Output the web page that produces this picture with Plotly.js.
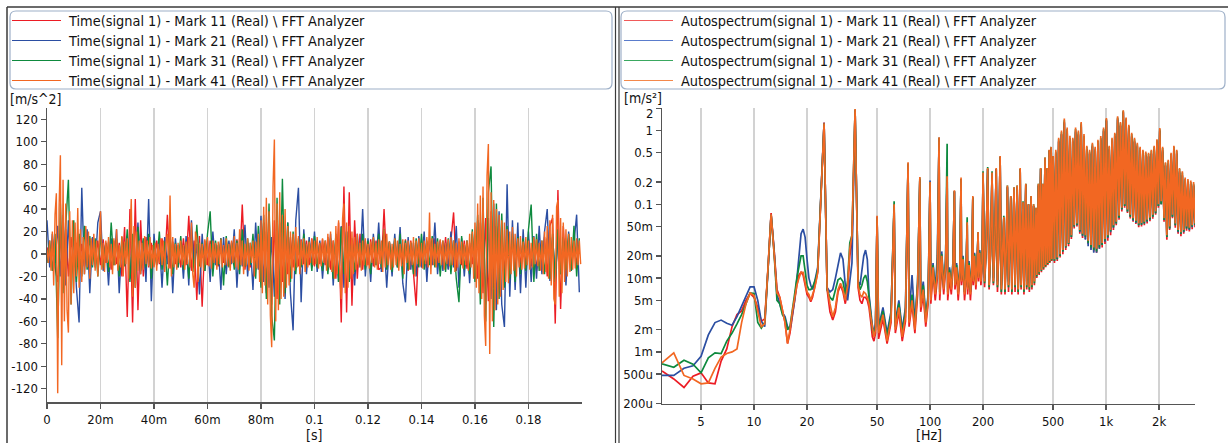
<!DOCTYPE html>
<html><head><meta charset="utf-8">
<script src="https://cdn.plot.ly/plotly-3.0.1.min.js"></script>
<style>html,body{margin:0;padding:0;background:#fff;}#chart{width:1228px;height:443px;}</style>
</head><body><div id="chart"></div>
<script>
const timeNames = ['Time(signal 1) - Mark 11 (Real) \\ FFT Analyzer','Time(signal 1) - Mark 21 (Real) \\ FFT Analyzer','Time(signal 1) - Mark 31 (Real) \\ FFT Analyzer','Time(signal 1) - Mark 41 (Real) \\ FFT Analyzer'];
const specNames = ['Autospectrum(signal 1) - Mark 11 (Real) \\ FFT Analyzer','Autospectrum(signal 1) - Mark 21 (Real) \\ FFT Analyzer','Autospectrum(signal 1) - Mark 31 (Real) \\ FFT Analyzer','Autospectrum(signal 1) - Mark 41 (Real) \\ FFT Analyzer'];
const seriesColors = ['#ec1c24','#2b4ea2','#0e8a3e','#f26722'];
const legendColorsSpec = ['#f05a5a','#5a7ccc','#3aa860','#f4884a'];
const timeStepCoarse = 0.001;   // red, blue, green samples
const timeStepFine = 0.0005;    // orange samples

const accRed = [6,-8,10,-12,-25,18,-30,22,-20,15,
-12,10,-14,9,-11,8,-13,10,-9,12,
-10,13,-8,11,-14,12,-9,10,-20,24,
-56,40,-61,49,-50,30,-20,15,-12,10,
-11,12,-9,14,-10,35,-13,11,-9,8,
-12,14,-10,34,-15,12,-41,16,-47,12,
-10,12,-13,9,-11,14,-8,12,-10,11,
-9,13,-11,44,-14,10,-12,9,-13,11,
-20,28,-35,38,-45,30,-40,28,-25,20,
-18,15,-12,10,-11,13,-9,12,-10,14,
-11,12,-9,13,-10,15,-14,12,-22,28,
-61,60,-52,55,-46,30,-22,18,-14,12,
-10,13,-11,12,-14,-12,40,-13,11,-10,
12,-11,10,-9,13,-15,12,-14,-46,14,
-12,10,-13,11,-9,14,-10,12,-11,15,
-13,12,37,-15,11,-10,12,-13,10,-9,
15,-22,28,-35,32,-42,38,-30,25,-22,
18,-15,13,-12,10,-14,11,-9,12,-10,
13,-11,12,-15,10,-13,15,-20,25,32,
-62,57,-49,25,-18,14,-12,10,-9,8];
const accBlue = [30,-12,18,-8,25,-20,35,-28,30,-22,
20,-30,-61,59,-18,22,-35,15,-12,28,
38,-15,10,-28,14,-10,22,-35,12,-9,
16,-22,8,-14,28,-18,12,-25,49,-42,
18,-10,12,-30,15,-9,20,-35,14,-12,
10,-22,16,-28,30,-12,9,-36,18,-15,
12,-25,20,-10,8,-32,15,-18,12,-9,
22,-30,14,-11,26,-20,10,-32,28,-14,
34,-25,20,-30,15,-38,25,-30,18,-40,
28,-35,-68,30,59,-43,22,-18,15,-12,
20,-16,12,-22,10,-14,18,-28,16,-25,
25,-30,20,-15,12,-28,18,-12,40,-20,
14,-25,18,-10,28,-16,12,-30,10,-20,
18,-12,24,-26,-43,15,-14,10,-20,16,
-12,20,-25,14,-10,28,-18,12,-15,10,
-14,20,-12,25,-30,14,-20,12,-26,18,
-22,30,-35,38,-45,32,-40,45,-50,38,
-45,-65,62,-38,30,-32,28,-35,22,-30,
20,-25,16,-22,25,-18,20,40,-24,15,
-22,14,-18,12,-28,20,-15,12,35,-34];
const accGreen = [-8,12,-15,18,-75,45,-35,25,66,-45,
30,-25,18,-20,25,-14,16,-12,14,-20,
18,-12,10,-16,28,-10,13,-20,15,-11,
22,-25,18,-30,24,-15,14,-12,18,-22,
12,-10,20,-14,11,-28,15,-18,10,-12,
16,-14,11,-22,14,-16,26,-11,10,-15,
18,38,-20,12,-10,14,-28,16,-12,10,
-14,12,-18,22,-11,14,-10,18,-22,25,
-30,35,-40,45,-55,-77,50,-45,67,-35,
28,-25,20,-18,14,-12,18,-10,12,-15,
16,-12,10,-15,12,-18,14,-22,18,-25,
24,-18,20,-25,14,-16,12,-10,18,-14,
12,-18,14,-10,18,-12,22,-14,11,-16,
14,-12,18,-22,12,-14,10,-18,14,-12,
18,-14,12,-10,16,-12,14,-20,12,-16,
14,-18,12,-22,-43,16,-14,12,-18,22,
-25,35,-45,50,-60,55,78,-65,45,-40,
36,-30,25,-22,18,-25,15,-18,14,-15,
22,44,-25,18,-15,12,-18,14,-22,18,
-25,22,-18,15,-14,18,-15,25,-20,14];
const accOrange = [4,-8,12,-15,20,-28,35,54,-124,40,88,-99,66,-60,45,-50,-70,38,-45,30,
-35,28,-20,41,-30,22,-25,15,-18,25,-12,20,-22,14,-10,18,-15,12,-20,16,
38,-14,10,-16,12,-8,15,-12,9,-18,14,-10,22,-15,8,-12,16,-20,11,-9,
14,-22,18,49,-38,25,-30,20,-15,12,-18,10,-14,16,-9,12,-11,15,-13,8,
-12,10,-15,9,-8,14,-10,12,-16,11,18,-13,52,-20,15,-12,9,-14,10,-8,
12,-10,8,-14,11,-9,15,-12,28,-18,-30,20,14,-25,10,-12,9,-15,13,-10,
15,-11,9,-13,12,-8,10,-14,11,-9,13,-12,8,-10,14,-11,9,-15,12,-8,
16,-12,10,-14,22,-10,12,-18,9,-11,14,-15,10,-8,12,-20,11,-13,18,-25,
30,-35,42,-28,50,-45,38,-55,-83,60,102,-60,45,-50,55,-40,35,-38,40,-30,
25,-28,20,-22,18,-15,24,-12,16,-18,12,-10,14,-16,9,-12,11,-8,13,-10,
12,-9,15,-13,10,-11,14,-8,12,-15,18,-12,20,-16,12,-22,25,-18,30,-20,
-40,32,45,-35,28,-30,25,-22,20,-18,15,-14,18,-12,10,-15,12,-10,14,-11,
9,-13,11,-8,15,-12,10,-14,13,-9,12,-16,22,-12,18,-10,11,-14,9,-12,
14,-10,12,-15,9,-11,13,-18,10,-8,12,-14,11,-10,15,-20,12,-9,14,-11,
10,-13,12,-9,15,-12,37,-18,14,-10,9,-12,11,-8,13,-10,12,-14,10,-9,
13,-11,15,-10,12,-16,10,-12,14,-9,11,-13,9,-10,12,-15,18,-12,20,-22,
28,-30,45,-35,52,-40,60,-55,-82,70,98,-89,55,-60,48,-50,40,-45,35,-38,
30,-32,28,-25,22,-26,20,-18,24,-15,18,-20,14,-12,16,-14,11,-13,15,-10,
12,-14,10,-12,15,-9,13,-11,10,-15,12,-18,20,-16,25,-22,30,-28,35,-40,
-45,42,48,-38,32,-35,28,-25,22,-20,18,-16,15,-14,12,-13,14,-10,12,-9];

const freqHz = [3,3.5,4,4.5,5,5.5,6,6.5,7,7.5,8,8.5,9,9.5,10,10.5,11,11.5,12,12.5,13,13.5,14,14.5,15,15.5,16,16.5,17,17.5,18,18.5,19,19.5,20,20.5,21,21.5,22,22.5,23,
25,26,27,28,29,30,31,32,33,34,35,36,37.5,39,40,41,42,43,44,45,46,47,48,49,50,
51,54,57,60,62.5,63.5,66.5,69.5,72.5,75,76,79,82,85,87.5,88.5,91.5,94.5,97.5,100,101,104,107,110,112.5,113.5,116.5,119.5,122.5,125,126,129,132,135,137.5,138.5,141.5,144.5,147.5,150,151,154,157,160,162.5,163.5,166.5,169.5,172.5,175,176,179,182,185,187.5,188.5,191.5,194.5,197.5,200,
204,208,212.5,216.5,220.5,225,229,233,237.5,241.5,245.5,250,254,258,262.5,266.5,270.5,275,279,283,287.5,291.5,295.5,300,304,308,312.5,316.5,320.5,325,329,333,337.5,341.5,345.5,350,354,358,362.5,366.5,370.5,375,379,383,387.5,391.5,395.5,400,404,408,412.5,416.5,420.5,425,429,433,437.5,441.5,445.5,450,454,458,462.5,466.5,470.5,475,479,483,487.5,491.5,495.5,500,
509,518,528,538,548,558,568,579,590,601,612,623,635,647,659,671,683,696,709,722,735,749,763,777,791,806,821,836,851,867,883,899,916,933,950,968,986,1004,1023,1042,1061,1081,1101,1121,1142,1163,1185,1207,1229,1252,1275,1299,1323,1347,1372,1398,1424,1450,1477,1504,1532,1561,1590,1619,1649,1680,1711,1743,1775,1808,1842,1876,1911,1946,1982,2019,2057,2095,2134,2174,2214,2255,2297,2340,2383,2428,2473,2519,2565,2613,2662,2711,2761,2813,2865,2918,2972,3028,3084,3141,3200];

const specRed = [5.5e-4,4.3e-4,3.3e-4,4.7e-4,5.2e-4,3.8e-4,3.7e-4,7.5e-4,1.1e-3,2.2e-3,3.2e-3,3.6e-3,5e-3,6.2e-3,5.5e-3,4e-3,2.6e-3,2.8e-3,1.3e-2,7.6e-2,2.4e-2,7e-3,5.5e-3,3.5e-3,2.5e-3,1.3e-3,1.8e-3,3e-3,5e-3,8e-3,1.1e-2,1.2e-2,1.1e-2,8e-3,6e-3,5.5e-3,4.8e-3,5.5e-3,7e-3,9e-3,1.2e-2,
1.28,7e-3,3.5e-3,2.7e-3,3.5e-3,6.5e-3,8e-3,6.5e-3,4.5e-3,7e-3,2e-2,3e-2,1.9,7.5e-3,5e-3,4.5e-3,5.5e-3,5.5e-3,5e-3,4e-3,2.6e-3,1.6e-3,1.4e-3,1.8e-3,6.8e-2,
1.5e-3,2.8e-3,1.3e-3,2.5e-3,9.5e-2, 1.8e-3,3.5e-3,1.4e-3,2.6e-3,0.35, 2.2e-3,4.5e-3,1.8e-3,6e-3,0.22, 3.5e-3,6e-3,2.2e-3,4.5e-3,0.2, 4.5e-3,1.2e-2,5e-3,1e-2,0.78, 5e-3,1.6e-2,6e-3,1.3e-2,0.25, 5e-3,1e-2,6e-3,1.3e-2,0.15, 7e-3,1.2e-2,5e-3,1e-2,0.22, 8e-3,1.5e-2,5e-3,9e-3,5.5e-2, 6e-3,1.3e-2,5e-3,1e-2,0.12, 8e-3,1.7e-2,7e-3,1.3e-2,4e-2, 9e-3,2e-2,8e-3,1.4e-2,0.26,
7.5e-3,2.2e-2,0.3, 7e-3,2e-2,0.26, 8e-3,2.5e-2,0.3, 6.5e-3,2.2e-2,0.44, 6e-3,1.8e-2,6.5e-2, 6e-3,2e-2,0.17, 6.5e-3,2.2e-2,0.125, 6e-3,2e-2,0.165, 6.5e-3,2.3e-2,0.17, 6e-3,2.2e-2,0.3, 7e-3,2.5e-2,0.105, 6e-3,2.2e-2,0.185, 7e-3,2.7e-2,0.1, 6.5e-3,2.5e-2,0.125, 7e-3,2.9e-2,0.095, 8e-3,3.2e-2,0.088, 1e-2,3.5e-2,0.18, 1.1e-2,3.7e-2,0.3, 1.2e-2,3.9e-2,0.18, 1.3e-2,4.2e-2,0.42, 1.4e-2,4.5e-2,0.3, 1.5e-2,4.7e-2,0.53, 1.6e-2,4.9e-2,0.58, 1.7e-2,5.2e-2,0.44,
16e-3,0.5,17e-3,0.72,19e-3,0.9,21e-3,1.3,24e-3,1.0,27e-3,0.78,34e-3,0.72,47e-3,1.0,50e-3,0.9,40e-3,1.2,35e-3,0.8,34e-3,0.56,29e-3,0.5,25e-3,0.62,23e-3,0.55,22e-3,0.68,25e-3,0.76,26e-3,1.0,29e-3,1.4,32e-3,0.56,38e-3,0.72,45e-3,0.85,52e-3,1.45,62e-3,1.2,80e-3,1.8,90e-3,1.4,76e-3,1.1,64e-3,0.85,58e-3,0.72,54e-3,0.62,49e-3,0.55,50e-3,0.5,52e-3,0.47,55e-3,0.45,59e-3,0.5,64e-3,0.56,72e-3,0.7,90e-3,1.0,0.1,0.55,58e-3,0.34,33e-3,0.36,45e-3,0.45,65e-3,0.56,48e-3,0.5,40e-3,0.28,37e-3,0.25,40e-3,0.21,44e-3,0.2,43e-3,0.19,46e-3,0.18,49e-3];
const specBlue = [4.8e-4,4.8e-4,6e-4,6.5e-4,8.7e-4,1.7e-3,2.5e-3,2.7e-3,2.45e-3,2.3e-3,3e-3,4.2e-3,5.6e-3,7.6e-3,7.6e-3,5e-3,2.6e-3,2.2e-3,1.3e-2,7.2e-2,2.4e-2,6e-3,4.5e-3,3.4e-3,3e-3,2.2e-3,2e-3,3e-3,5e-3,9.5e-3,2e-2,4e-2,4.6e-2,3.6e-2,1.8e-2,1e-2,8e-3,7e-3,8.5e-3,1.1e-2,1.4e-2,
1.27,7.5e-3,6.5e-3,7e-3,1e-2,1.6e-2,2.2e-2,1.8e-2,8e-3,5e-3,1e-2,1.6e-2,1.9,9e-3,8e-3,1.3e-2,2e-2,2.4e-2,1.8e-2,6e-3,3.5e-3,2.3e-3,1.8e-3,2.5e-3,6.8e-2,
2.2e-3,4e-3,1.8e-3,3.5e-3,9e-2, 2.5e-3,5e-3,2e-3,4e-3,0.34, 3e-3,1.1e-2,2.5e-3,9e-3,0.22, 5e-3,9e-3,3e-3,6e-3,0.21, 6e-3,1.6e-2,7e-3,2e-2,0.8, 7e-3,2.3e-2,8e-3,1.8e-2,0.3, 7e-3,1.4e-2,8e-3,1.7e-2,0.15, 9e-3,1.6e-2,7e-3,1.4e-2,0.22, 1e-2,2e-2,7e-3,1.2e-2,5.5e-2, 8e-3,1.7e-2,7e-3,1.4e-2,0.125, 1e-2,2.2e-2,9e-3,1.7e-2,4e-2, 1.1e-2,2.4e-2,1e-2,1.8e-2,0.26,
1e-2,2.7e-2,0.3, 9e-3,2.4e-2,0.26, 1e-2,3e-2,0.3, 9e-3,2.7e-2,0.44, 8e-3,2.2e-2,6.5e-2, 8e-3,2.4e-2,0.17, 9e-3,2.7e-2,0.125, 8e-3,2.4e-2,0.165, 9e-3,2.8e-2,0.17, 8e-3,2.6e-2,0.3, 9e-3,3e-2,0.105, 8e-3,2.7e-2,0.185, 9e-3,3.2e-2,0.1, 8.5e-3,3e-2,0.125, 9e-3,3.4e-2,0.095, 1e-2,3.7e-2,0.088, 1.2e-2,4e-2,0.18, 1.3e-2,4.2e-2,0.3, 1.4e-2,4.4e-2,0.18, 1.5e-2,4.7e-2,0.42, 1.6e-2,5e-2,0.3, 1.7e-2,5.2e-2,0.53, 1.8e-2,5.4e-2,0.58, 1.9e-2,5.7e-2,0.44,
17e-3,0.48,18e-3,0.7,20e-3,0.88,23e-3,1.25,26e-3,0.95,29e-3,0.75,36e-3,0.7,50e-3,0.95,52e-3,0.86,42e-3,1.15,37e-3,0.78,33e-3,0.55,27e-3,0.48,24e-3,0.6,22e-3,0.53,22e-3,0.66,25e-3,0.74,28e-3,0.98,31e-3,1.35,35e-3,0.55,42e-3,0.7,48e-3,0.82,55e-3,1.4,66e-3,1.15,85e-3,1.75,95e-3,1.35,80e-3,1.05,68e-3,0.82,60e-3,0.7,56e-3,0.6,52e-3,0.53,53e-3,0.48,55e-3,0.46,58e-3,0.44,62e-3,0.48,68e-3,0.55,76e-3,0.68,95e-3,0.98,0.1,0.52,62e-3,0.33,36e-3,0.35,47e-3,0.44,68e-3,0.55,52e-3,0.48,42e-3,0.27,40e-3,0.24,42e-3,0.2,47e-3,0.19,45e-3,0.19,49e-3,0.18,52e-3];
const specGreen = [6.9e-4,6.2e-4,7.7e-4,6.8e-4,5.2e-4,8.3e-4,9.7e-4,9.5e-4,1.4e-3,1.8e-3,2.4e-3,3.2e-3,4.5e-3,6.3e-3,6.2e-3,2.5e-3,2.1e-3,2.5e-3,1.3e-2,7.2e-2,2.2e-2,5e-3,4.5e-3,3.2e-3,2.8e-3,2e-3,2.2e-3,3.5e-3,6e-3,1e-2,1.5e-2,2e-2,2e-2,1.2e-2,8e-3,7e-3,7e-3,7.5e-3,8.5e-3,1e-2,1.3e-2,
1.24,7e-3,5.5e-3,5e-3,7e-3,9.5e-3,1e-2,9e-3,6e-3,9e-3,3e-2,3.8e-2,1.92,9e-3,7e-3,8e-3,1e-2,1.1e-2,9e-3,5e-3,3.2e-3,2e-3,1.7e-3,2.2e-3,6.5e-2,
2e-3,3.6e-3,1.6e-3,3.2e-3,0.11, 2.2e-3,4.5e-3,1.8e-3,3.5e-3,0.36, 2.8e-3,6e-3,2.2e-3,8.5e-3,0.23, 4.5e-3,8e-3,2.8e-3,5.5e-3,0.2, 5.5e-3,1.5e-2,6.5e-3,1.3e-2,0.8, 6.5e-3,2.1e-2,7.5e-3,1.6e-2,0.66, 6.5e-3,1.3e-2,7.5e-3,1.6e-2,0.15, 8.5e-3,1.5e-2,6.5e-3,1.3e-2,0.22, 9.5e-3,1.9e-2,6.5e-3,1.1e-2,6.7e-2, 7.5e-3,1.6e-2,6.5e-3,1.3e-2,0.125, 9.5e-3,2.1e-2,8.5e-3,1.6e-2,4.2e-2, 1.05e-2,2.3e-2,9.5e-3,1.7e-2,0.28,
8.5e-3,2.4e-2,0.32, 7.5e-3,2.1e-2,0.28, 8.5e-3,2.7e-2,0.3, 7.5e-3,2.4e-2,0.44, 6.5e-3,1.9e-2,7e-2, 6.5e-3,2.1e-2,0.18, 7.5e-3,2.4e-2,0.13, 6.5e-3,2.1e-2,0.17, 7.5e-3,2.5e-2,0.18, 6.5e-3,2.3e-2,0.3, 7.5e-3,2.7e-2,0.11, 6.5e-3,2.4e-2,0.19, 7.5e-3,2.9e-2,0.1, 7e-3,2.7e-2,0.13, 7.5e-3,3.1e-2,0.1, 8.5e-3,3.4e-2,0.09, 1.05e-2,3.7e-2,0.19, 1.15e-2,3.9e-2,0.31, 1.25e-2,4.1e-2,0.19, 1.35e-2,4.4e-2,0.43, 1.45e-2,4.7e-2,0.31, 1.55e-2,4.9e-2,0.54, 1.65e-2,5.1e-2,0.6, 1.75e-2,5.4e-2,0.45,
17e-3,0.52,18e-3,0.76,20e-3,0.95,23e-3,1.38,26e-3,1.05,29e-3,0.8,36e-3,0.76,50e-3,1.05,53e-3,0.95,43e-3,1.25,38e-3,0.85,36e-3,0.6,30e-3,0.52,26e-3,0.65,24e-3,0.57,23e-3,0.72,26e-3,0.8,28e-3,1.05,32e-3,1.42,36e-3,0.6,43e-3,0.76,49e-3,0.9,55e-3,1.5,66e-3,1.25,86e-3,1.85,95e-3,1.45,80e-3,1.15,68e-3,0.9,62e-3,0.76,57e-3,0.65,52e-3,0.58,53e-3,0.53,55e-3,0.5,59e-3,0.48,63e-3,0.53,68e-3,0.6,76e-3,0.74,95e-3,1.04,0.1,0.58,62e-3,0.36,36e-3,0.39,47e-3,0.48,68e-3,0.6,52e-3,0.53,43e-3,0.3,40e-3,0.27,43e-3,0.22,47e-3,0.21,46e-3,0.2,50e-3,0.19,53e-3];
const specOrange = [7.1e-4,9.7e-4,4.8e-4,4.3e-4,3.7e-4,3.8e-4,6e-4,8.5e-4,9.5e-4,1e-3,1.1e-3,2.5e-3,4.5e-3,6.3e-3,5.8e-3,3.5e-3,2.2e-3,2.4e-3,1.3e-2,7.3e-2,2.2e-2,6.3e-3,5.5e-3,3.5e-3,2.5e-3,1.3e-3,2e-3,3.5e-3,5.5e-3,8e-3,1e-2,1.2e-2,1.2e-2,9e-3,6.5e-3,6e-3,5e-3,6e-3,7e-3,9e-3,1.2e-2,
1.25,7.5e-3,4.5e-3,3e-3,4e-3,7e-3,8.5e-3,7e-3,5e-3,8e-3,2.5e-2,3.8e-2,1.95,8e-3,6e-3,5.5e-3,6.5e-3,6.2e-3,5.5e-3,4.5e-3,3e-3,2e-3,1.6e-3,2e-3,7e-2,
1.8e-3,3.2e-3,1.4e-3,2.8e-3,0.1, 2e-3,4e-3,1.6e-3,3e-3,0.37, 2.5e-3,5e-3,2e-3,8e-3,0.235, 4e-3,7e-3,2.5e-3,5e-3,0.2, 5e-3,1.4e-2,6e-3,1.2e-2,0.81, 6e-3,2e-2,7e-3,1.5e-2,0.24, 6e-3,1.2e-2,7e-3,1.5e-2,0.155, 8e-3,1.4e-2,6e-3,1.2e-2,0.23, 9e-3,1.8e-2,6e-3,1e-2,5.7e-2, 7e-3,1.5e-2,6e-3,1.2e-2,0.13, 9e-3,2e-2,8e-3,1.5e-2,4.2e-2, 1e-2,2.2e-2,9e-3,1.6e-2,0.27,
9e-3,2.5e-2,0.31, 8e-3,2.2e-2,0.27, 9e-3,2.8e-2,0.31, 8e-3,2.5e-2,0.45, 7e-3,2e-2,6.7e-2, 7e-3,2.2e-2,0.18, 8e-3,2.5e-2,0.13, 7e-3,2.2e-2,0.17, 8e-3,2.6e-2,0.18, 7e-3,2.4e-2,0.31, 8e-3,2.8e-2,0.107, 7e-3,2.5e-2,0.19, 8e-3,3e-2,0.1, 7.5e-3,2.8e-2,0.13, 8e-3,3.2e-2,0.1, 9e-3,3.5e-2,0.09, 1.1e-2,3.8e-2,0.19, 1.2e-2,4e-2,0.31, 1.3e-2,4.2e-2,0.19, 1.4e-2,4.5e-2,0.43, 1.5e-2,4.8e-2,0.31, 1.6e-2,5e-2,0.55, 1.7e-2,5.2e-2,0.6, 1.8e-2,5.5e-2,0.45,
18e-3,0.55,19e-3,0.8,21e-3,1.0,24e-3,1.45,27e-3,1.1,30e-3,0.85,38e-3,0.8,52e-3,1.1,55e-3,1.0,45e-3,1.3,40e-3,0.9,38e-3,0.62,32e-3,0.55,28e-3,0.68,26e-3,0.6,25e-3,0.75,28e-3,0.84,30e-3,1.1,34e-3,1.48,38e-3,0.62,45e-3,0.8,52e-3,0.93,58e-3,1.56,70e-3,1.3,90e-3,1.88,0.1,1.5,85e-3,1.2,72e-3,0.93,65e-3,0.8,60e-3,0.68,55e-3,0.6,56e-3,0.55,58e-3,0.52,62e-3,0.5,66e-3,0.55,72e-3,0.62,80e-3,0.76,0.1,1.08,0.11,0.6,65e-3,0.37,38e-3,0.4,50e-3,0.5,72e-3,0.62,55e-3,0.55,45e-3,0.31,42e-3,0.28,45e-3,0.23,50e-3,0.22,48e-3,0.21,52e-3,0.2,55e-3];

const timeTickVals = [0,0.02,0.04,0.06,0.08,0.1,0.12,0.14,0.16,0.18];
const timeTickText = ['0','20m','40m','60m','80m','0.1','0.12','0.14','0.16','0.18'];
const accTickVals = [-120,-100,-80,-60,-40,-20,0,20,40,60,80,100,120];
const accTickText = ['-120','-100','-80','-60','-40','-20','0','20','40','60','80','100','120'];
const freqTickVals = [5,10,20,50,100,200,500,1000,2000];
const freqTickText = ['5','10','20','50','100','200','500','1k','2k'];
const specTickVals = [2,1,0.5,0.2,0.1,0.05,0.02,0.01,0.005,0.002,0.001,0.0005,0.0002];
const specTickText = ['','1','0.5','0.2','0.1','50m','20m','10m','5m','2m','1m','500u','200u'];
const specTopLabel = '2';

const W = 1228, H = 443;
const FONT = '"DejaVu Sans Condensed", "Liberation Sans", sans-serif';
const px = x => x / W, py = y => 1 - y / H;

const timeSeries = [accRed, accBlue, accGreen, accOrange];
const timeSteps = [timeStepCoarse, timeStepCoarse, timeStepCoarse, timeStepFine];
const specSeries = [specRed, specBlue, specGreen, specOrange];
const traces = [];
timeSeries.forEach((s, i) => traces.push({type:'scatter', mode:'lines', name: timeNames[i], y: s, x0: 0, dx: timeSteps[i],
  line:{color: seriesColors[i], width:1.4}, xaxis:'x', yaxis:'y', hoverinfo:'skip'}));
specSeries.forEach((s, i) => traces.push({type:'scatter', mode:'lines', name: specNames[i], x: freqHz, y: s,
  line:{color: seriesColors[i], width:1.7}, xaxis:'x2', yaxis:'y2', hoverinfo:'skip'}));

function rr(x0,y0,x1,y1,r){
  const X = px, Y = py;
  return `M${X(x0+r)},${Y(y0)} L${X(x1-r)},${Y(y0)} Q${X(x1)},${Y(y0)} ${X(x1)},${Y(y0+r)} L${X(x1)},${Y(y1-r)} Q${X(x1)},${Y(y1)} ${X(x1-r)},${Y(y1)} L${X(x0+r)},${Y(y1)} Q${X(x0)},${Y(y1)} ${X(x0)},${Y(y1-r)} L${X(x0)},${Y(y0+r)} Q${X(x0)},${Y(y0)} ${X(x0+r)},${Y(y0)} Z`;
}

const shapes = [];
const annotations = [];
const frameColor = '#3a3a3a';
shapes.push({type:'line', xref:'paper', yref:'paper', x0:px(7), x1:px(7), y0:py(7), y1:py(443), line:{color:frameColor, width:1.5}});
shapes.push({type:'line', xref:'paper', yref:'paper', x0:px(7), x1:px(1228), y0:py(7), y1:py(7), line:{color:frameColor, width:1.5}});
shapes.push({type:'line', xref:'paper', yref:'paper', x0:px(615.5), x1:px(615.5), y0:py(7), y1:py(443), line:{color:frameColor, width:1.2}});
shapes.push({type:'line', xref:'paper', yref:'paper', x0:px(619), x1:px(619), y0:py(7), y1:py(443), line:{color:frameColor, width:1.2}});
shapes.push({type:'path', xref:'paper', yref:'paper', path: rr(10,11,612,89,6), line:{color:'#9eb0c8', width:1.2}});
shapes.push({type:'path', xref:'paper', yref:'paper', path: rr(621,11,1225,89,6), line:{color:'#9eb0c8', width:1.2}});
const rowY = [20.5, 40.5, 60.5, 80.5];
for (let i = 0; i < 4; i++) {
  shapes.push({type:'line', xref:'paper', yref:'paper', x0:px(12), x1:px(61), y0:py(rowY[i]), y1:py(rowY[i]), line:{color:seriesColors[i], width:1.2}});
  shapes.push({type:'line', xref:'paper', yref:'paper', x0:px(624), x1:px(673), y0:py(rowY[i]), y1:py(rowY[i]), line:{color:legendColorsSpec[i], width:1.2}});
  annotations.push({xref:'paper', yref:'paper', x:px(66), y:py(rowY[i]+0.5), xanchor:'left', yanchor:'middle', text: timeNames[i], showarrow:false, font:{family:FONT, size:14.4, color:'#111'}});
  annotations.push({xref:'paper', yref:'paper', x:px(679), y:py(rowY[i]+0.5), xanchor:'left', yanchor:'middle', text: specNames[i], showarrow:false, font:{family:FONT, size:14.4, color:'#111'}});
}
annotations.push({xref:'paper', yref:'paper', x:px(8), y:py(99), xanchor:'left', yanchor:'middle', text:'[m/s^2]', showarrow:false, font:{family:FONT, size:14, color:'#111'}});
annotations.push({xref:'paper', yref:'paper', x:px(622), y:py(98), xanchor:'left', yanchor:'middle', text:'[m/s²]', showarrow:false, font:{family:FONT, size:14, color:'#111'}});
annotations.push({xref:'paper', yref:'paper', x:px(655), y:py(114), xanchor:'right', yanchor:'middle', text:specTopLabel, showarrow:false, font:{family:FONT, size:13, color:'#111'}});
annotations.push({xref:'paper', yref:'paper', x:px(314), y:py(435), xanchor:'center', yanchor:'middle', text:'[s]', showarrow:false, font:{family:FONT, size:14, color:'#111'}});
annotations.push({xref:'paper', yref:'paper', x:px(929), y:py(435), xanchor:'center', yanchor:'middle', text:'[Hz]', showarrow:false, font:{family:FONT, size:14, color:'#111'}});

const axCommon = {showline:true, linecolor:'#555', linewidth:1.5, ticks:'outside', ticklen:5, tickwidth:1.3, tickcolor:'#555',
  zeroline:false, tickfont:{family:FONT, size:13, color:'#111'}, fixedrange:true};
const layout = {
  width:W, height:H, margin:{l:0,r:0,t:0,b:0}, paper_bgcolor:'#fff', plot_bgcolor:'#fff', showlegend:false, hovermode:false,
  font:{family:FONT},
  xaxis: Object.assign({}, axCommon, {domain:[px(47), px(582)], range:[0,0.2], tickmode:'array', tickvals:timeTickVals, ticktext:timeTickText,
    showgrid:true, gridcolor:'#d2d2d2', gridwidth:1.5, anchor:'y'}),
  yaxis: Object.assign({}, axCommon, {domain:[py(402), py(108)], range:[-131.8,130], tickmode:'array', tickvals:accTickVals, ticktext:accTickText,
    showgrid:false, anchor:'x'}),
  xaxis2: Object.assign({}, axCommon, {type:'log', domain:[px(662), px(1195)], range:[Math.log10(3), Math.log10(3200)], tickmode:'array',
    tickvals:freqTickVals, ticktext:freqTickText, showgrid:true, gridcolor:'#d2d2d2', gridwidth:1.5, anchor:'y2'}),
  yaxis2: Object.assign({}, axCommon, {type:'log', domain:[py(403.5), py(107.5)], range:[Math.log10(2e-4), Math.log10(2.05)], tickmode:'array',
    tickvals:specTickVals, ticktext:specTickText, showgrid:false, anchor:'x2'}),
  shapes: shapes, annotations: annotations
};
Plotly.newPlot('chart', traces, layout, {staticPlot:true, displayModeBar:false});
</script>
</body></html>
